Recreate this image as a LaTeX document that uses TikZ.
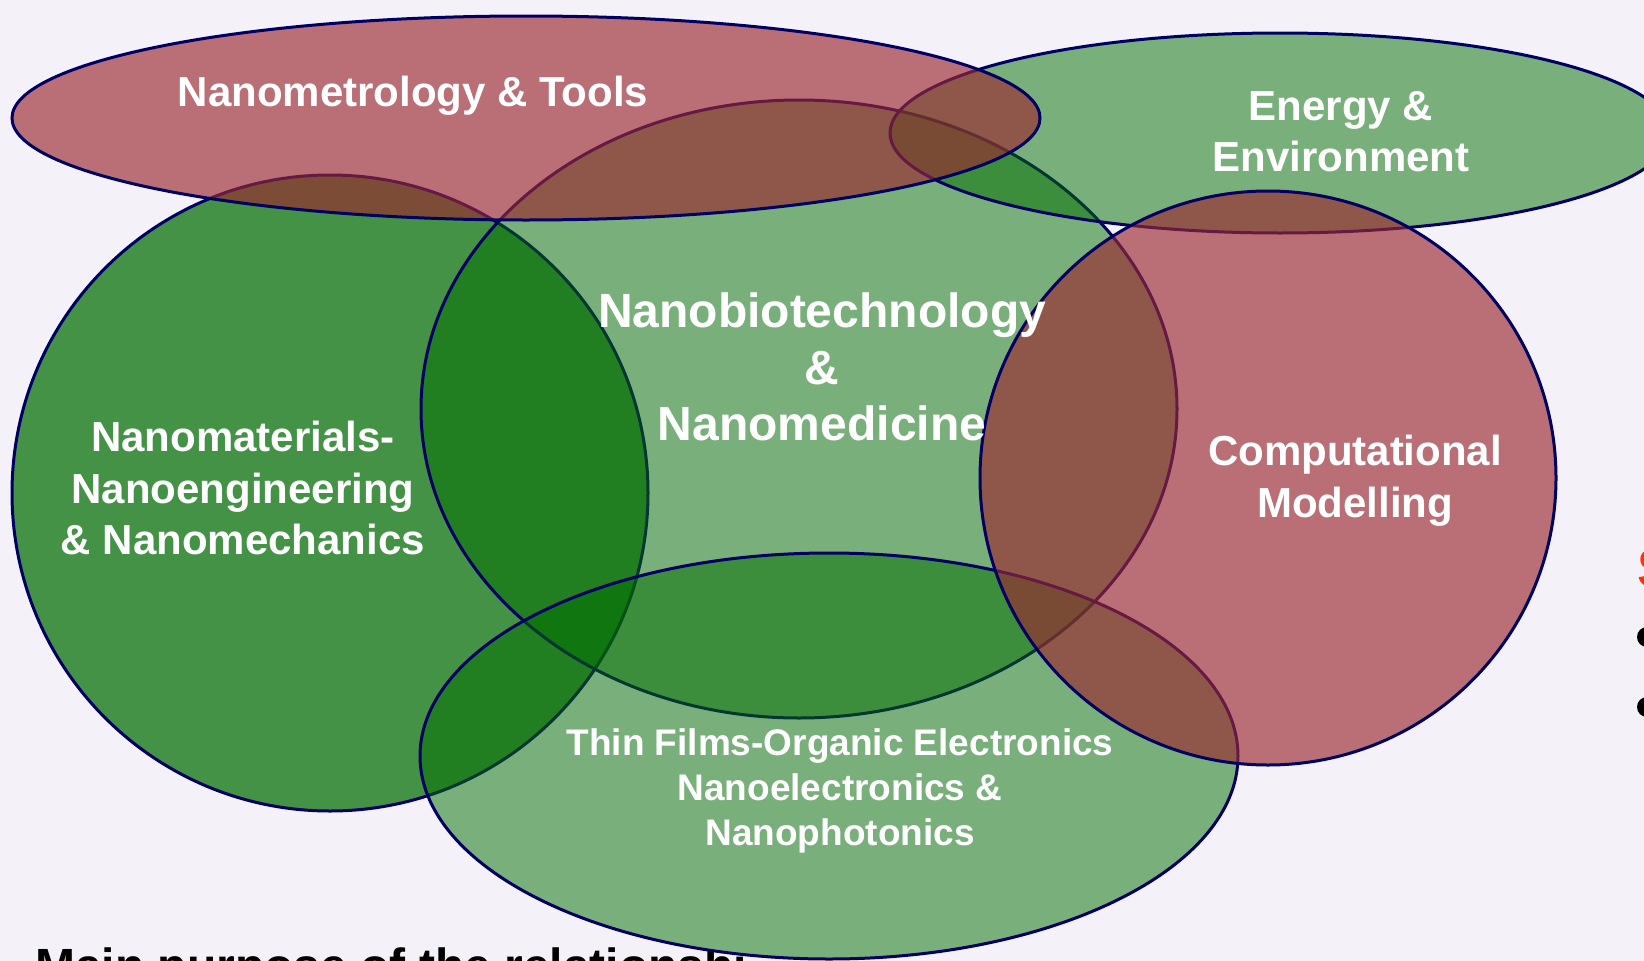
\documentclass[tikz,border=0pt]{standalone}
\usepackage{fontspec}
\setmainfont{Liberation Sans}
\definecolor{bgc}{RGB}{244,242,248}
\definecolor{edge}{RGB}{0,0,100}
\definecolor{gbase}{RGB}{0,110,0}
\definecolor{rbase}{RGB}{155,40,48}
\definecolor{sred}{RGB}{255,50,0}
\tikzset{
  lightgreen/.style={fill=gbase,fill opacity=0.5,draw=edge,draw opacity=1,line width=3pt},
  darkgreen/.style={fill=gbase,fill opacity=0.72,draw=edge,draw opacity=1,line width=3pt},
  redfill/.style={fill=rbase,fill opacity=0.65,draw=edge,draw opacity=1,line width=3pt},
  lbl/.style={text=white,font=\bfseries\fontsize{42}{50}\selectfont,anchor=base,inner sep=0pt},
  lblbig/.style={lbl,font=\bfseries\fontsize{48}{56}\selectfont},
  lblsmall/.style={lbl,font=\bfseries\fontsize{37}{44}\selectfont},
}
\begin{document}
\begin{tikzpicture}[x=1pt,y=-1pt]
\useasboundingbox (0,0) rectangle (1644,961);
\fill[bgc] (0,0) rectangle (1644,961);
% slide text partly hidden
\node[anchor=base west,inner sep=0pt,font=\bfseries\fontsize{48}{56}\selectfont] (mp) at (35,982) {Main purpose of the relationshi};
\node[anchor=base west,inner sep=0pt,text=sred,font=\bfseries\fontsize{55}{60}\selectfont] (s) at (1637,587) {S};
\fill (1647,637) circle[radius=10pt];
\fill (1647,707) circle[radius=10pt];
% background under thin films ellipse hides text
\fill[bgc] (829,756) ellipse[x radius=409pt,y radius=203pt];
% ellipses
\path[darkgreen] (330,493) ellipse[x radius=318pt,y radius=318pt];
\path[lightgreen] (799,409) ellipse[x radius=378pt,y radius=309pt];
\path[lightgreen] (829,756) ellipse[x radius=409pt,y radius=203pt];
\path[lightgreen] (1280,133) ellipse[x radius=390pt,y radius=100pt];
\path[redfill] (1268,478) ellipse[x radius=288pt,y radius=287pt];
\path[redfill] (526,118) ellipse[x radius=514pt,y radius=102pt];
% labels
\node[lbl] (t1) at (413,106) {Nanometrology \& Tools};
\node[lbl] (e1) at (1341,120) {Energy \&};
\node[lbl] (e2) at (1341,171) {Environment};
\node[lbl] (m1) at (243,451) {Nanomaterials-};
\node[lbl] (m2) at (243,503) {Nanoengineering};
\node[lbl] (m3) at (243,554) {\& Nanomechanics};
\node[lblbig] (b1) at (822,327) {Nanobiotechnology};
\node[lblbig] (b2) at (822,384) {\&};
\node[lblbig] (b3) at (822,440) {Nanomedicine};
\node[lbl] (c1) at (1355,465) {Computational};
\node[lbl] (c2) at (1355,517) {Modelling};
\node[lblsmall] (f1) at (840,755) {Thin Films-Organic Electronics};
\node[lblsmall] (f2) at (840,800) {Nanoelectronics \&};
\node[lblsmall] (f3) at (840,845) {Nanophotonics};
\end{tikzpicture}
\end{document}
